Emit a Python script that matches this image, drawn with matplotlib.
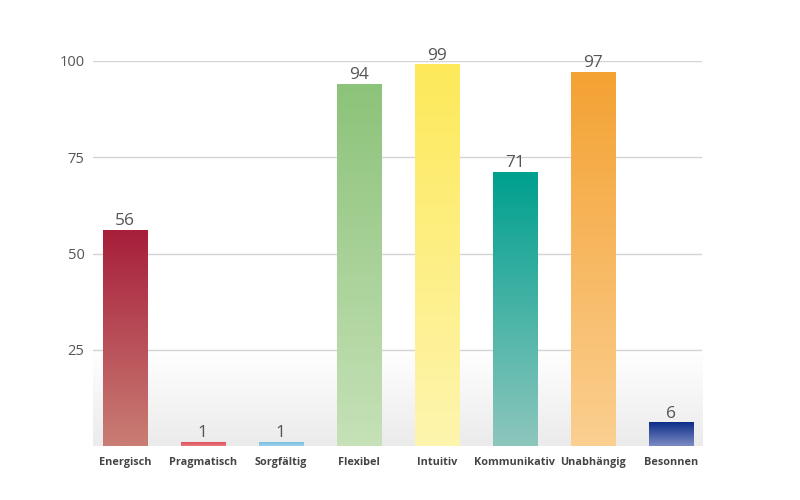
import numpy as np
import matplotlib.pyplot as plt
from matplotlib.colors import LinearSegmentedColormap

# data
categories = ['Energisch', 'Pragmatisch', 'Sorgfältig', 'Flexibel',
              'Intuitiv', 'Kommunikativ', 'Unabhängig', 'Besonnen']
values = [56, 1, 1, 94, 99, 71, 97, 6]
top_colors = ['#a71f3b', '#e0505c', '#78bfe0', '#8cc37a',
              '#fde95a', '#00a08f', '#f4a233', '#0c2d88']
bottom_colors = ['#c97d74', '#e77a80', '#9fd2ea', '#c6e1b7',
                 '#fdf5ae', '#8dc6bd', '#fbcf90', '#7d8bc3']
yticks = [25, 50, 75, 100]

plt.rcParams['font.family'] = ['Open Sans', 'DejaVu Sans']

fig = plt.figure(figsize=(8, 5), dpi=100)
ax = fig.add_axes([0.116, 0.108, 0.7615, 0.77])

x = np.arange(len(categories))
width = 0.57
ax.set_xlim(-0.41, 7.40)
ax.set_ylim(0, 100)

# light gray gradient at the bottom of the plot area
bg = np.linspace(0, 1, 100).reshape(-1, 1)
bg_cmap = LinearSegmentedColormap.from_list('bg', ['#ebebeb', '#ffffff'])
ax.imshow(bg, cmap=bg_cmap, aspect='auto', origin='lower',
          extent=[-0.41, 7.40, 0, 25], zorder=0)

for y in yticks:
    ax.axhline(y, color='#d4d4d4', lw=1, zorder=1)

for i, v in enumerate(values):
    cmap = LinearSegmentedColormap.from_list('c%d' % i, [bottom_colors[i], top_colors[i]])
    grad = np.linspace(0, 1, 100).reshape(-1, 1)
    ax.imshow(grad, cmap=cmap, aspect='auto', origin='lower',
              extent=[x[i] - width / 2, x[i] + width / 2, 0, v], zorder=2)
    ax.text(x[i], v + 0.3, str(v), ha='center', va='bottom',
            fontsize=12.5, color='#555555', clip_on=False)

ax.set_xlim(-0.41, 7.40)
ax.set_ylim(0, 100)

ax.set_yticks(yticks)
ax.set_yticklabels([str(t) for t in yticks], fontsize=10.5, color='#555555')
ax.set_xticks(x)
ax.set_xticklabels(categories, fontsize=7.8, fontweight='bold', color='#444444')
ax.tick_params(length=0)
ax.tick_params(axis='x', pad=8)
ax.tick_params(axis='y', pad=6)

for s in ax.spines.values():
    s.set_visible(False)

fig.savefig('out.png')
